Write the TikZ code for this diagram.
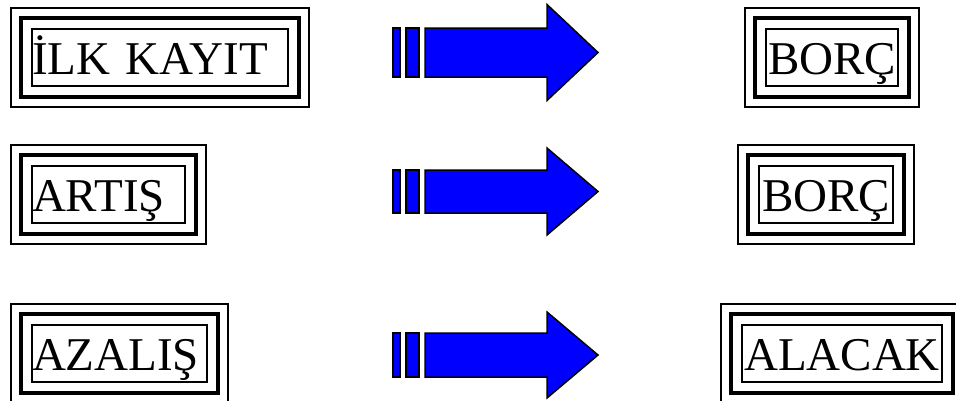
\documentclass[tikz,border=0pt]{standalone}
\usepackage{fontspec}
\setmainfont{Liberation Serif}
\usetikzlibrary{fit}

\begin{document}
\begin{tikzpicture}[x=1pt,y=-1pt,
  lbl/.style={draw,line width=1.8pt,outer sep=0pt,inner sep=0pt,anchor=north west,
    font=\fontsize{47}{50}\selectfont,text height=45pt,text depth=12pt,minimum height=57pt},
  leftlbl/.style={lbl,align=left},
  rightlbl/.style={lbl,align=center},
  midframe/.style={draw,line width=4.5pt,inner sep=11pt,outer sep=0pt},
  outframe/.style={draw,line width=1.8pt,inner sep=10pt,outer sep=0pt},
  barpart/.style={draw=black,fill=blue,line width=1.5pt,line join=miter}]
  \useasboundingbox (0,0) rectangle (956,400);
  \clip (0,0) rectangle (956,400);
  % left column
  \node[leftlbl,text width=256pt] (ilk) at (32,29) {İLK KAYIT};
  \node[leftlbl,text width=153pt] (artis) at (32,166) {ARTIŞ};
  \node[leftlbl,text width=175pt] (azalis) at (32,325) {AZALIŞ};
  % right column
  \node[rightlbl,text width=132pt] (borca) at (766,29) {BORÇ};
  \node[rightlbl,text width=134pt] (borcb) at (759,166) {BORÇ};
  \node[rightlbl,text width=200pt] (alacak) at (742,325) {ALACAK};
  % double frames
  \foreach \n in {ilk,artis,azalis,borca,borcb,alacak}{
    \node[midframe,fit=(\n)] (\n mid) {};
    \node[outframe,fit=(\n mid)] (\n out) {};
  }
  % block arrows
  \foreach \cy/\bh/\hh in {52.5/24.5/48,191.5/21.5/43.5,355/22/43}{
    \draw[barpart] (393,{\cy-\bh}) rectangle (400,{\cy+\bh});
    \draw[barpart] (406,{\cy-\bh}) rectangle (419,{\cy+\bh});
    \draw[barpart] (425,{\cy-\bh}) -- (547,{\cy-\bh}) -- (547,{\cy-\hh}) -- (598,\cy)
      -- (547,{\cy+\hh}) -- (547,{\cy+\bh}) -- (425,{\cy+\bh}) -- cycle;
  }
\end{tikzpicture}
\end{document}
